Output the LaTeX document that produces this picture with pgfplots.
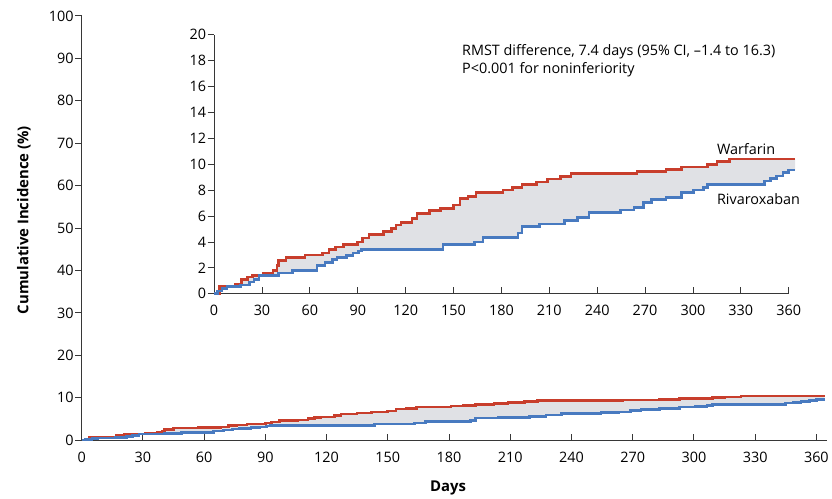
\documentclass[border=0pt]{standalone}
\usepackage{pgfplots}
\pgfplotsset{compat=1.18}
\usepgfplotslibrary{fillbetween}
\usepackage{pgfplotstable}
\usepackage{fontspec}
\setmainfont{Open Sans}
\definecolor{warf}{RGB}{200,62,44}
\definecolor{riva}{RGB}{72,122,192}
\definecolor{band}{RGB}{224,225,229}
\definecolor{axc}{RGB}{55,55,55}

% Kaplan-Meier style step data
\pgfplotstableread{
day val
0 0
3.5 0.6
13.5 0.75
17 1.1
21 1.28
24 1.42
31 1.62
37 1.8
39.5 2.2
40.5 2.56
45 2.82
57 3.0
68 3.15
72 3.4
76 3.6
81 3.8
90 4.0
93 4.3
97 4.6
106 4.8
111 5.05
114 5.3
117 5.5
124 5.8
127 6.2
135 6.45
142 6.6
150 6.85
154 7.35
159 7.5
164 7.8
181 8.02
187 8.2
193 8.46
202 8.64
209 8.85
217 9.05
223.5 9.28
265 9.46
283 9.62
293 9.79
309 10.0
315 10.2
323 10.42
364 10.42
}\warftab

\pgfplotstableread{
day val
0 0
2 0.2
5 0.4
8 0.55
16.5 0.68
22 0.9
25 1.1
28 1.41
40.5 1.62
49 1.8
64.5 2.2
69.5 2.4
74 2.64
77 2.8
83 2.95
87 3.15
90.5 3.3
92.5 3.44
143.5 3.8
163 4.0
168.5 4.36
190.5 4.7
193 5.2
204 5.38
219.5 5.64
227.5 5.9
235 6.28
254.5 6.46
263 6.67
269 7.05
274 7.26
283 7.44
293 7.82
300.5 8.0
306.5 8.2
309 8.46
345 8.72
348.5 8.9
352.5 9.1
356.5 9.36
360 9.56
364 9.56
}\rivatab

\pgfplotsset{
  nejm/.style={
    scale only axis, anchor=origin, clip=false,
    axis lines=left, axis line style={-, line width=1pt, draw=axc},
    major tick length=6.5bp, tick style={line width=0.9pt, draw=axc},
    xtick align=inside, ytick align=outside,
    tick label style={font=\fontsize{14.5}{16}\selectfont},
    /pgf/number format/assume math mode=true,
    yticklabel style={xshift=2bp},
    xticklabel style={yshift=-8bp}},
  km/.style={const plot, line width=2.6bp}}

\begin{document}
\begin{tikzpicture}
\path (0,0) rectangle (832bp,498bp);

% main axis
\begin{axis}[nejm, at={(82bp,56bp)}, width=748bp, height=426bp,
  xmin=0, xmax=365, ymin=0, ymax=100,
  xtick={0,30,...,360}, ytick={0,10,...,100}]
\addplot[km, draw=warf, name path=w1] table[x=day,y=val] {\warftab};
\addplot[km, draw=riva, name path=r1] table[x=day,y=val] {\rivatab};
\addplot[fill=band, draw=none] fill between[of=w1 and r1];
\end{axis}

% inset
\begin{axis}[nejm, at={(215bp,203bp)}, width=577bp, height=260bp,
  xmin=0, xmax=360, ymin=0, ymax=20,
  xtick={0,30,...,360}, ytick={0,2,...,20}]
\addplot[km, draw=warf, name path=w2] table[x=day,y=val] {\warftab};
\addplot[km, draw=riva, name path=r2] table[x=day,y=val] {\rivatab};
\addplot[fill=band, draw=none] fill between[of=w2 and r2];
\node[anchor=base west, inner sep=0, align=left,
  font=\fontsize{14.5}{17.5}\selectfont] at (axis cs:155.3,17.04)
  {RMST difference, 7.4 days (95\% CI, \textendash1.4 to 16.3)\\P<0.001 for noninferiority};
\node[anchor=base west, inner sep=0, font=\fontsize{14.5}{16}\selectfont]
  at (axis cs:315,10.77) {Warfarin};
\node[anchor=base west, inner sep=0, font=\fontsize{14.5}{16}\selectfont]
  at (axis cs:315,6.9) {Rivaroxaban};
\end{axis}

\node[rotate=90, font=\fontsize{15}{17}\selectfont\bfseries] at (24bp,277bp)
  {Cumulative Incidence (\%)};
\node[font=\fontsize{15}{17}\selectfont\bfseries] at (450bp,8bp) {Days};
\end{tikzpicture}
\end{document}
